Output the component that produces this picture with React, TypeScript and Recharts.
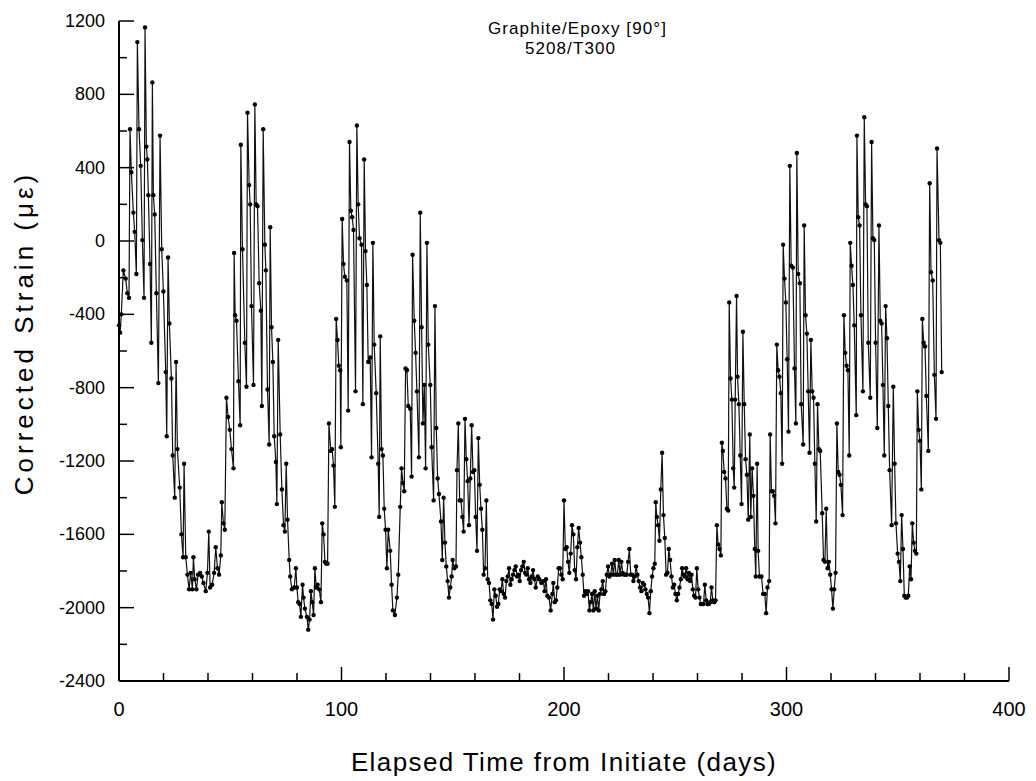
import React from 'react';
import { LineChart, Line, XAxis, YAxis } from 'recharts';

// [day, corrected strain (microstrain)], by period
const segA: [number, number][] = [
  [0,-460],[0.5,-500],[1.05,-400],[1.95,-160],[3.0,-205],[3.75,-285],[4.5,-310],[4.95,610],[5.55,375],[6.45,155],
  [7.05,50],[7.8,-180],[8.25,1085],[9.0,610],[9.75,410],[10.5,5],[11.25,-310],[11.7,1165],[12.3,515],[12.75,445],
  [13.2,250],[13.95,-125],[14.55,-555],[15.0,865],[15.45,250],[16.05,145],[16.8,-285],[17.7,-775],[18.45,575],[19.2,-45],
  [19.95,-275],[21.0,-715],[21.45,-1065],[22.05,-90],[22.65,-450],[23.55,-750],[24.15,-1170],[25.05,-1400],[25.65,-660],[26.25,-1135],
  [27.3,-1345],[28.05,-1600],[28.8,-1725],[29.25,-1215],[30.0,-1725],[30.75,-1820],[31.5,-1900],[32.25,-1810],[33.0,-1900],[33.45,-1725],
  [34.05,-1845],[34.8,-1900],[35.55,-1820],[36.45,-1810],[37.2,-1830],[37.95,-1865],[39.0,-1910],[39.75,-1810],[40.35,-1585],[40.95,-1890],
  [41.85,-1875],[42.75,-1810],[43.5,-1670],[44.25,-1785],[45.0,-1820],[45.75,-1715],[46.2,-1425],[46.95,-1540],[47.55,-1575],[48.3,-855],
  [49.05,-960],[49.8,-1030],[50.55,-1135],[51.45,-1240],[51.75,-65],[52.2,-405],[52.8,-435],[53.7,-765],[54.45,-1005],[54.75,525],
  [55.5,-45],[56.55,-555],[57.3,-795],[57.75,700],[58.5,305],[58.95,200],[59.55,-355],[60.45,-785],[61.05,745],[61.65,200],
  [62.25,190],[63.0,-230],[63.75,-380],[64.2,-900],[64.8,610],[65.55,-20],[66.0,-160],[66.75,-810],[67.5,-1110],[67.95,75],
  [68.55,-470],[69.15,-660],[69.75,-1065],[70.5,-1205],[70.95,-1435],[71.55,-540],[72.45,-1055],[73.2,-1355],[73.95,-1550],[74.55,-1585],
  [75.15,-1215],[75.75,-1520],[76.5,-1740],[76.95,-1830],[77.7,-1900],[78.75,-1890],[79.5,-1785],[79.95,-1890],[80.55,-1970],[81.15,-1980],
  [81.75,-2050],[82.5,-1875],[82.95,-1945],[83.55,-2005],[84.45,-2050],[85.05,-2120],[85.65,-2065],[86.25,-1910],[86.85,-1970],[87.45,-2040],
  [88.05,-1785],[88.65,-1890],[89.25,-1875],[90.0,-1900],[90.75,-1970],[91.35,-1540],[91.95,-1600],[92.55,-1750],[93.15,-1760],[93.75,-1760],
  [94.35,-995],
];

const segB: [number, number][] = [
  [95.2,-1145],[95.8,-1135],[96.4,-1225],[97.0,-1450],[97.6,-425],[98.2,-540],[98.8,-680],[99.4,-705],[99.7,-1125],[100.3,120],
  [100.9,-125],[101.5,-195],[102.4,-215],[103.0,-925],[103.6,540],[104.2,165],[104.8,130],[105.4,60],[106.3,-820],[106.9,630],
  [107.5,200],[108.1,15],[109.0,-20],[109.6,-890],[110.2,445],[110.8,-55],[111.4,-240],[112.0,-660],[112.9,-635],[113.5,-1180],
  [114.1,-10],[114.7,-565],[115.6,-830],[116.5,-1215],[116.95,-1505],[117.4,-520],[118.0,-1135],[118.6,-1170],[119.2,-1460],[119.8,-1575],
  [120.4,-1785],[121.0,-1575],[121.9,-1690],[122.5,-1875],[123.1,-2015],[124.0,-2040],[124.9,-1945],[125.5,-1820],[126.4,-1450],[127.0,-1240],
  [127.6,-1320],[128.2,-1365],[128.8,-695],[129.4,-705],[130.0,-900],[130.9,-915],[131.5,-1285],[131.95,-75],[132.7,-435],[133.3,-610],
  [133.9,-820],[134.8,-1180],[135.4,155],[136.0,-470],[136.6,-995],[137.2,-785],[137.8,-1240],[138.4,-10],[139.0,-565],[139.9,-785],
  [140.5,-1125],[141.4,-1415],[142.0,-355],[142.6,-1020],[143.2,-1295],[143.8,-1380],[144.7,-1530],[145.3,-1740],[145.9,-1400],[146.5,-1645],
  [147.1,-1775],[147.7,-1855],[148.3,-1945],[148.9,-1890],[149.5,-1830],[149.95,-1740],[150.7,-1785],[151.45,-1775],[151.9,-1250],[152.5,-995],
  [153.1,-1415],[153.7,-1415],[154.3,-1505],[154.9,-1585],[155.5,-970],[156.1,-1190],[156.7,-1310],[157.3,-1550],[157.9,-1295],[158.5,-1005],
  [159.1,-1260],[159.7,-1250],[160.3,-1505],[160.9,-1690],[161.5,-1075],[162.1,-1330],[162.7,-1460],[163.3,-1575],[163.9,-1820],[164.5,-1785],
  [165.1,-1415],[165.7,-1845],[166.3,-1865],[166.9,-1960],[167.5,-1980],[168.1,-2065],[168.7,-1900],[169.3,-1935],[169.9,-1995],[170.5,-1980],
  [171.1,-1900],[171.7,-1910],[172.3,-1845],[172.9,-1925],[173.5,-1945],[174.1,-1855],[174.7,-1830],[175.3,-1785],[175.9,-1875],[176.5,-1845],
  [177.1,-1820],[177.7,-1795],[178.3,-1775],[178.9,-1830],[179.5,-1820],[180.1,-1855],[180.7,-1795],[181.3,-1775],[181.9,-1750],[182.5,-1810],
  [183.1,-1820],[183.7,-1785],[184.3,-1845],[184.9,-1865],[185.5,-1830],[186.1,-1795],[186.7,-1845],[187.3,-1890],[188.2,-1830],
];

const segC: [number, number][] = [
  [188.9,-1845],[189.8,-1865],[190.7,-1855],[191.3,-1910],[191.9,-1845],[192.5,-1935],[193.25,-1945],[194.0,-2015],[194.75,-1925],[195.2,-1865],
  [195.8,-1970],[196.4,-1960],[197.0,-1890],[197.6,-1785],[198.2,-1785],[198.8,-1820],[199.4,-1845],[200.0,-1415],[200.6,-1680],[201.2,-1670],
  [201.8,-1750],[202.4,-1810],[203.0,-1705],[203.6,-1550],[204.2,-1600],[204.8,-1795],[205.4,-1845],[206.0,-1670],[206.6,-1565],[207.2,-1645],
  [207.8,-1725],[208.4,-1820],[209.0,-1935],[209.6,-1910],[210.2,-1925],[210.8,-1910],[211.4,-2015],[212.0,-1970],[212.6,-1925],[213.2,-2015],
  [213.8,-1910],[214.4,-2005],[215.0,-1935],[215.6,-2015],[216.2,-1925],[216.8,-1900],[217.4,-1855],[218.0,-1925],[218.6,-1910],[219.2,-1820],
  [219.8,-1775],[220.4,-1830],[221.0,-1820],[221.6,-1760],[222.2,-1820],[222.8,-1740],[223.4,-1820],[224.0,-1820],[224.6,-1740],[225.2,-1820],
  [225.8,-1750],[226.4,-1810],[227.0,-1820],[227.6,-1820],[228.2,-1820],[228.8,-1750],[229.4,-1680],[230.0,-1820],[230.6,-1820],[231.2,-1855],
  [231.8,-1830],[232.4,-1775],[233.0,-1820],[233.6,-1855],[234.2,-1890],[234.8,-1910],[235.4,-1865],[236.0,-1875],[236.6,-1900],[237.2,-1925],
  [237.8,-1945],[238.4,-2030],[239.0,-1910],[239.6,-1830],[240.2,-1785],[240.8,-1760],[241.25,-1425],[241.7,-1505],[242.3,-1550],[242.9,-1635],
  [243.5,-1355],[244.1,-1155],[244.7,-1495],[245.3,-1620],[245.9,-1820],[246.5,-1810],[247.1,-1680],[247.7,-1740],[248.3,-1830],[248.9,-1890],
  [249.5,-1875],[250.1,-1925],[250.7,-1960],[251.3,-1925],[251.9,-1890],[252.5,-1845],[253.1,-1785],[253.7,-1820],[254.3,-1830],[254.9,-1785],
  [255.5,-1845],[256.1,-1810],[256.7,-1855],[257.3,-1820],[257.9,-1900],[258.5,-1935],[259.1,-1945],[259.7,-1785],[260.3,-1900],[260.9,-1945],
  [261.5,-1980],[262.1,-1980],[262.7,-1980],[263.3,-1875],[263.9,-1960],[264.5,-1980],[265.1,-1980],[265.7,-1970],[266.3,-1890],[266.9,-1960],
  [267.5,-1970],[268.1,-1960],[268.7,-1550],[269.3,-1655],[269.9,-1680],[270.5,-1715],[270.95,-1100],[271.4,-1145],[272.0,-1260],[272.6,-1295],
  [273.2,-1460],[273.8,-1470],[274.25,-335],[274.85,-750],[275.45,-865],[276.05,-1240],[276.5,-1345],[276.95,-865],[277.55,-300],[278.0,-740],
  [278.6,-890],[279.2,-1170],[279.8,-1435],[280.4,-495],[281.0,-890],[281.6,-1190],[282.2,-1275],[282.8,-1520],
];

const segD: [number, number][] = [
  [283.5,-1055],[283.95,-1505],[284.55,-1240],[285.15,-1390],[285.75,-1680],[286.2,-1830],[286.8,-1215],[287.25,-1690],[287.85,-1830],[288.75,-1830],
  [289.5,-1925],[290.25,-1925],[290.85,-2030],[291.45,-1890],[292.2,-1855],[292.65,-1055],[293.25,-1365],[293.85,-1365],[294.45,-1390],[295.05,-1540],
  [295.65,-565],[296.25,-705],[296.85,-740],[297.45,-830],[298.05,-1215],[298.5,-20],[299.1,-205],[299.7,-335],[300.3,-645],[300.9,-1040],
  [301.5,410],[302.1,-135],[302.85,-145],[303.6,-695],[304.2,-995],[304.65,480],[305.25,-180],[306.0,-230],[306.6,-890],[307.5,-1110],
  [307.95,85],[308.55,-405],[309.15,-505],[309.75,-820],[310.35,-1155],[310.95,-540],[311.55,-820],[312.15,-855],[312.75,-1215],[313.35,-1530],
  [313.95,-890],[314.55,-1135],[315.15,-1145],[316.05,-1485],[316.65,-1740],[317.25,-1750],[317.85,-1460],[318.45,-1785],[319.05,-1750],[319.65,-1820],
  [320.25,-1900],[320.85,-2005],[321.45,-1900],[322.05,-1810],[322.65,-995],[323.25,-1260],[323.85,-1275],[324.45,-1330],[325.2,-1495],[325.8,-405],
  [326.4,-610],[327.0,-680],[327.6,-705],[328.2,-1170],[328.65,-10],[329.25,-135],[329.85,-240],[330.45,-460],[331.35,-950],[331.65,575],
  [332.25,130],[332.85,85],[333.45,-405],[334.35,-820],[334.95,675],[335.55,200],[336.15,190],[336.75,-555],[337.65,-855],[338.25,540],
  [338.85,15],[339.45,5],[340.05,-555],[340.8,-1020],[341.55,85],[342.15,-435],[342.75,-450],[343.35,-785],[343.95,-1170],[344.55,-355],
  [345.15,-530],[345.75,-900],[346.35,-1250],[347.25,-1550],[348.0,-795],[348.6,-1215],[349.2,-1540],[349.95,-1705],[350.55,-1750],[351.15,-1855],
  [351.75,-1495],[352.35,-1680],[352.95,-1935],[353.55,-1945],[354.15,-1945],[354.75,-1935],[355.35,-1775],[355.95,-1845],[356.55,-1540],[357.15,-1645],
  [357.75,-1690],[358.35,-1705],[358.8,-820],[359.4,-1030],[360.0,-1090],[360.6,-1355],[361.05,-425],[361.65,-555],[362.25,-575],[362.85,-845],
  [363.75,-1145],[364.35,315],[364.95,-170],[365.7,-215],[366.45,-730],[367.2,-970],[367.65,505],[368.55,5],[369.15,-10],[369.75,-715],
];

const xTicks = [0, 20, 40, 60, 80, 100, 120, 140, 160, 180, 200, 220, 240, 260, 280, 300, 320, 340, 360, 380, 400];
const yTicks = [1200, 1000, 800, 600, 400, 200, 0, -200, -400, -600, -800, -1000, -1200, -1400, -1600, -1800, -2000, -2200, -2400];
const titleLines = ['Graphite/Epoxy [90°]', '5208/T300'];
const xLabel = 'Elapsed Time from Initiate (days)';
const yLabel = 'Corrected Strain (\u03BC\u03B5)';

const data = [...segA, ...segB, ...segC, ...segD].map(([day, strain]) => ({ day, strain }));

const FONT = '"Liberation Sans", Arial, Helvetica, sans-serif';

const XTick = (props: any) => {
  const { x, y, payload } = props;
  const v = payload.value;
  const major = v % 100 === 0;
  return (
    <g>
      <line x1={x} x2={x} y1={y} y2={y - (major ? 14 : 8)} stroke="#000" strokeWidth={1.5} />
      {major && (
        <text x={x} y={y + 35} textAnchor="middle" fontSize={20} fontFamily={FONT} fill="#000">
          {v}
        </text>
      )}
    </g>
  );
};

const YTick = (props: any) => {
  const { x, y, payload } = props;
  const v = payload.value;
  const major = v % 400 === 0;
  return (
    <g>
      <line x1={x} x2={x + (major ? 15 : 8)} y1={y} y2={y} stroke="#000" strokeWidth={1.5} />
      {major && (
        <text x={x - 14} y={y + 6} textAnchor="end" fontSize={18} fontFamily={FONT} fill="#000">
          {v}
        </text>
      )}
    </g>
  );
};

const XLabel = (props: any) => {
  const vb = props.viewBox || { x: 119, y: 681, width: 890, height: 100 };
  return (
    <text
      x={vb.x + vb.width / 2}
      y={vb.y + 90}
      textAnchor="middle"
      fontSize={26}
      letterSpacing={1.4}
      fontFamily={FONT}
      fill="#000"
    >
      {xLabel}
    </text>
  );
};

const YLabel = (props: any) => {
  const vb = props.viewBox || { x: 0, y: 21, width: 119, height: 660 };
  const cx = 33;
  const cy = vb.y + vb.height / 2 - 18;
  return (
    <text
      x={cx}
      y={cy}
      transform={`rotate(-90, ${cx}, ${cy})`}
      textAnchor="middle"
      fontSize={26}
      letterSpacing={4}
      fontFamily={FONT}
      fill="#000"
    >
      {yLabel}
    </text>
  );
};

export default function App() {
  return (
    <div style={{ position: 'absolute', left: 0, top: 0, width: 1036, height: 781, background: '#fff' }}>
      <LineChart width={1036} height={781} data={data} margin={{ top: 21, right: 27, bottom: 0, left: 0 }}>
        <XAxis
          type="number"
          dataKey="day"
          domain={[0, 400]}
          ticks={xTicks}
          interval={0}
          height={100}
          tickSize={0}
          tickMargin={0}
          tickLine={false}
          axisLine={{ stroke: '#000', strokeWidth: 2 }}
          tick={<XTick />}
          label={<XLabel />}
        />
        <YAxis
          type="number"
          domain={[-2400, 1200]}
          ticks={yTicks}
          interval={0}
          width={119}
          tickSize={0}
          tickMargin={0}
          tickLine={false}
          axisLine={{ stroke: '#000', strokeWidth: 2 }}
          tick={<YTick />}
          label={<YLabel />}
        />
        <Line
          type="linear"
          dataKey="strain"
          stroke="#111"
          strokeWidth={1.2}
          dot={{ r: 2.2, fill: '#000', stroke: 'none' }}
          activeDot={false}
          isAnimationActive={false}
        />
      </LineChart>
      <div
        style={{
          position: 'absolute',
          left: 475,
          top: 19,
          width: 205,
          textAlign: 'center',
          fontFamily: FONT,
          fontSize: 17,
          lineHeight: '20px',
          letterSpacing: 1.1,
          color: '#000',
        }}
      >
        <div>{titleLines[0]}</div>
        <div style={{ marginLeft: -14 }}>{titleLines[1]}</div>
      </div>
    </div>
  );
}
